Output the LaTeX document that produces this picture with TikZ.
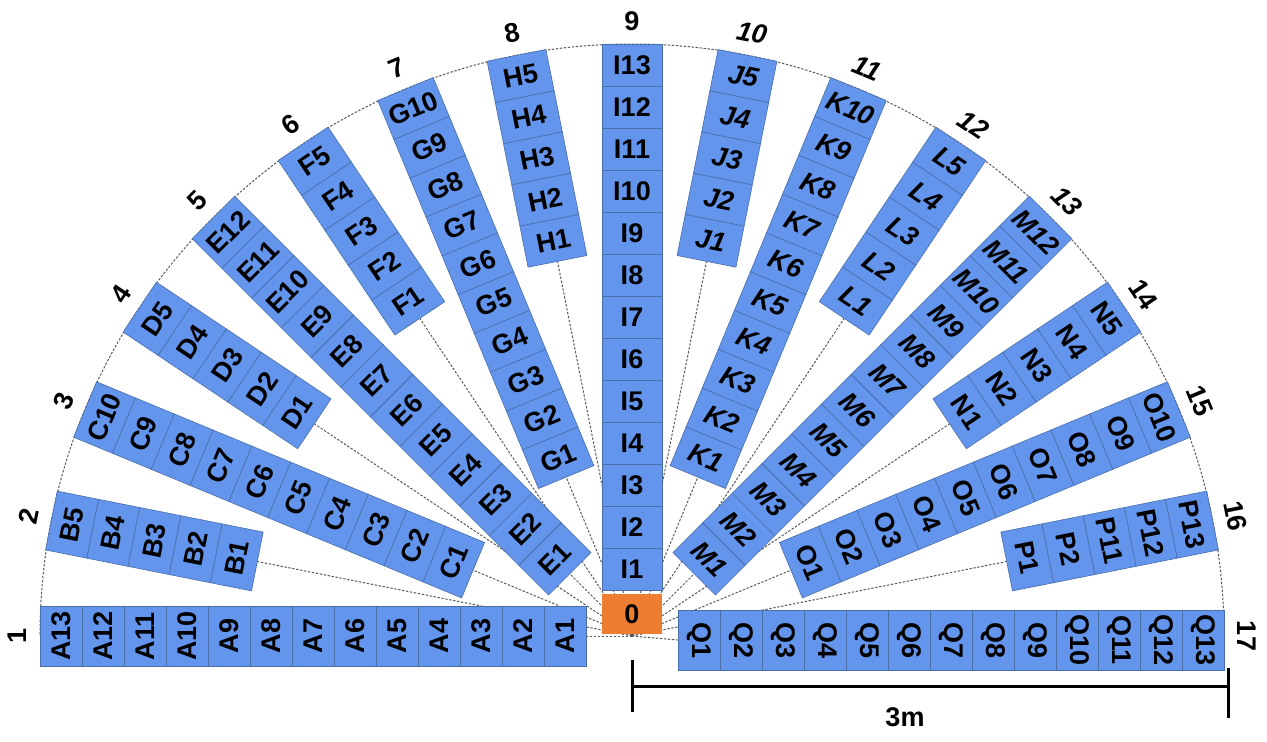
\documentclass[tikz,border=0pt]{standalone}
\usepackage{fontspec}
\setmainfont{Liberation Sans}
\usetikzlibrary{backgrounds}
\definecolor{cellblue}{RGB}{100,149,237}
\definecolor{celledge}{RGB}{72,110,170}
\definecolor{zeroorange}{RGB}{237,125,49}
\newcommand\cellfont{\fontsize{13.5}{15}\selectfont\bfseries}
\newcommand\cellfontit{\fontsize{13.5}{15}\selectfont\bfseries\itshape}
\tikzset{
  cell/.style={rectangle, draw=celledge, line width=0.3pt, fill=cellblue,
    minimum width=30pt, minimum height=21pt, inner sep=0pt, transform shape},
  zerobox/.style={rectangle, fill=zeroorange, minimum width=30pt, minimum height=20pt,
    inner sep=0pt, font=\cellfont},
  raynum/.style={inner sep=0pt, transform shape},
  rayline/.style={dash pattern=on 1.2pt off 0.8pt, line width=0.5pt, black!65},
  arcline/.style={dash pattern=on 1.2pt off 0.8pt, line width=0.5pt, black!65},
  scalebar/.style={line width=1.5pt, black, line cap=butt},
  barlabel/.style={font=\cellfont, inner sep=0pt}
}
% #1 angle, #2 number of cells, #3 labels (inner to outer), #4 ray number, #5 lateral offset, #6 font
\newcommand\drawstrip[6]{%
  \begin{scope}[rotate=#1-90]
    \foreach \lab [count=\i] in {#3} {
      \node[cell, font=#6] (\lab) at (#5, {592-42*(#2-\i)-21}) {\lab};
    }
    \node[raynum, font=#6] (ray#4) at (0,615) {#4};
  \end{scope}%
}
\begin{document}
\begin{tikzpicture}[x=0.5pt, y=0.5pt]
  \useasboundingbox (-632,-105) rectangle (635,636);
  \coordinate (C) at (0,0);
  \drawstrip{180}{13}{A1,A2,A3,A4,A5,A6,A7,A8,A9,A10,A11,A12,A13}{1}{0}{\cellfont}
  \drawstrip{168.75}{5}{B1,B2,B3,B4,B5}{2}{0}{\cellfont}
  \drawstrip{157.5}{10}{C1,C2,C3,C4,C5,C6,C7,C8,C9,C10}{3}{0}{\cellfont}
  \drawstrip{146.25}{5}{D1,D2,D3,D4,D5}{4}{0}{\cellfont}
  \drawstrip{135}{12}{E1,E2,E3,E4,E5,E6,E7,E8,E9,E10,E11,E12}{5}{0}{\cellfont}
  \drawstrip{123.75}{5}{F1,F2,F3,F4,F5}{6}{0}{\cellfont}
  \drawstrip{112.5}{10}{G1,G2,G3,G4,G5,G6,G7,G8,G9,G10}{7}{0}{\cellfont}
  \drawstrip{101.25}{5}{H1,H2,H3,H4,H5}{8}{0}{\cellfont}
  \drawstrip{90}{13}{I1,I2,I3,I4,I5,I6,I7,I8,I9,I10,I11,I12,I13}{9}{0}{\cellfont}
  \drawstrip{78.75}{5}{J1,J2,J3,J4,J5}{10}{0}{\cellfontit}
  \drawstrip{67.5}{10}{K1,K2,K3,K4,K5,K6,K7,K8,K9,K10}{11}{0}{\cellfontit}
  \drawstrip{56.25}{5}{L1,L2,L3,L4,L5}{12}{0}{\cellfontit}
  \drawstrip{45}{12}{M1,M2,M3,M4,M5,M6,M7,M8,M9,M10,M11,M12}{13}{0}{\cellfontit}
  \drawstrip{33.75}{5}{N1,N2,N3,N4,N5}{14}{0}{\cellfont}
  \drawstrip{22.5}{10}{O1,O2,O3,O4,O5,O6,O7,O8,O9,O10}{15}{0}{\cellfont}
  \drawstrip{11.25}{5}{P1,P2,P11,P12,P13}{16}{0}{\cellfont}
  \drawstrip{0}{13}{Q1,Q2,Q3,Q4,Q5,Q6,Q7,Q8,Q9,Q10,Q11,Q12,Q13}{17}{4}{\cellfont}
  \node[zerobox] (zero) at (0,22) {0};
  \begin{scope}[on background layer]
    \draw[arcline] (592,0) arc[start angle=0, end angle=180, radius=592];
    \foreach \n in {A1,B1,C1,D1,E1,F1,G1,H1,J1,K1,L1,M1,N1,O1,P1,Q1}
      \draw[rayline] (C) -- (\n.south);
  \end{scope}
  % scale bar
  \coordinate (barL) at (0,-50);
  \coordinate (barR) at (596,-50);
  \draw[scalebar] (0,-24) -- (0,-76);
  \draw[scalebar] (596,-32) -- (596,-82);
  \draw[scalebar] (barL) -- (barR);
  \node[barlabel] (barlab) at (273,-81) {3m};
\end{tikzpicture}
\end{document}
